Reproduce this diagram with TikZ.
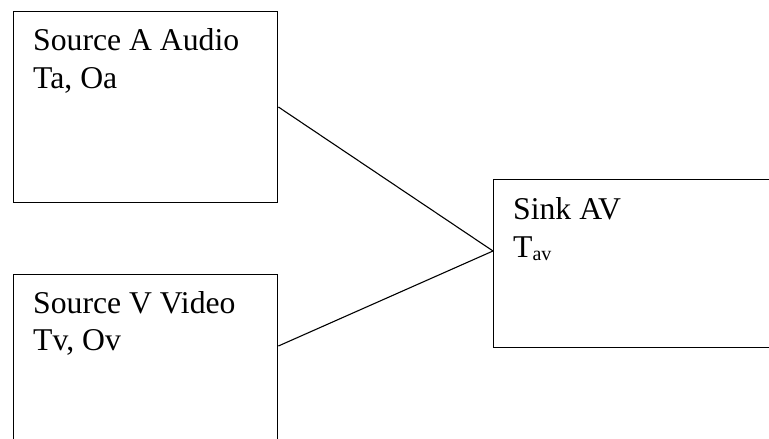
\documentclass[tikz,border=0pt]{standalone}
\usepackage{fontspec}
\setmainfont{Liberation Serif}
\begin{document}
\begin{tikzpicture}[x=1pt,y=-1pt,
  box/.style={draw, line width=1.4pt, rectangle, inner sep=0pt, anchor=north west},
  lbl/.style={anchor=base west, inner sep=0pt, font=\fontsize{31.7}{38}\selectfont},
  conn/.style={line width=1.1pt}]
\clip (0,0) rectangle (769,439);
\node[box, minimum width=264pt, minimum height=191pt] (a) at (13,11) {};
\node[box, minimum width=264pt, minimum height=200pt] (v) at (13,274) {};
\node[box, minimum width=300pt, minimum height=168pt] (s) at (493,179) {};
\node[lbl] (a1) at (33,50) {Source A Audio};
\node[lbl] (a2) at (33,88) {Ta, Oa};
\node[lbl] (v1) at (33,313) {Source V Video};
\node[lbl] (v2) at (33,350) {Tv, Ov};
\node[lbl] (s1) at (513,219) {Sink AV};
\node[lbl] (s2) at (513,257) {T\raisebox{-3pt}{\fontsize{20}{20}\selectfont av}};
\path (a.north east) ++(0,96) coordinate (aout);
\path (v.north east) ++(0,72) coordinate (vout);
\path (s.north west) ++(0,72) coordinate (sin);
\draw[conn] (aout) -- (sin);
\draw[conn] (vout) -- (sin);
\end{tikzpicture}
\end{document}
